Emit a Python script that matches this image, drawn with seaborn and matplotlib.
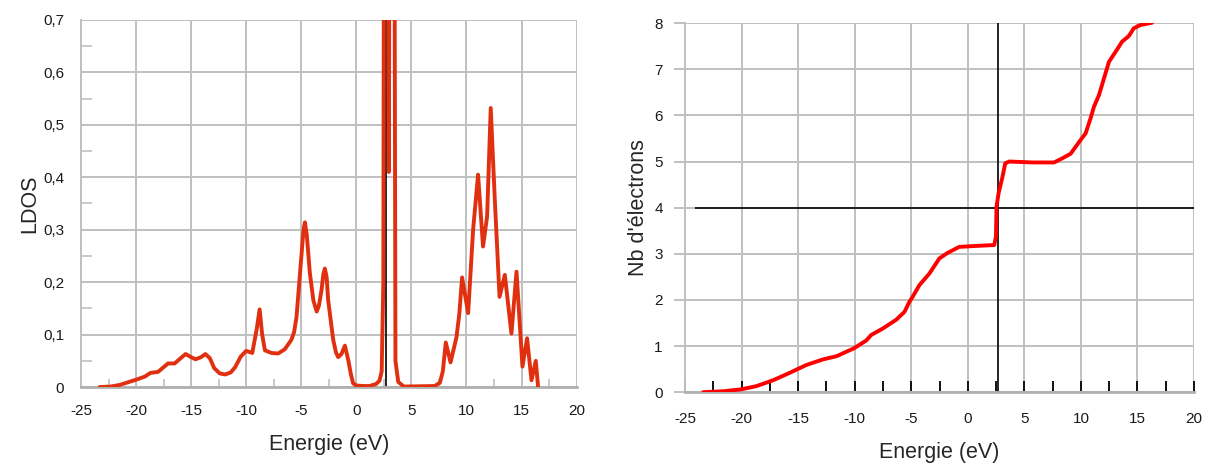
import numpy as np
import pandas as pd
import matplotlib
matplotlib.use('Agg')
import matplotlib.pyplot as plt
from matplotlib.ticker import FuncFormatter, MultipleLocator
import seaborn as sns

# LDOS curve (energy in eV, LDOS)
ldos_energy = [-23.3, -22.3, -21.5, -20.9, -20.0, -19.2, -18.7, -18.0, -17.1, -16.5,
               -15.9, -15.5, -15.0, -14.6, -14.1, -13.7, -13.3, -12.9, -12.4, -11.9,
               -11.4, -11.0, -10.5, -10.0, -9.45, -9.05, -8.78, -8.55, -8.3, -7.7,
               -7.1, -6.5, -5.9, -5.65, -5.43, -4.97, -4.8, -4.67, -4.5, -4.22,
               -3.9, -3.6, -3.4, -3.16, -3.0, -2.86, -2.7, -2.56, -2.1, -1.85,
               -1.65, -1.35, -1.04, -0.74, -0.5, -0.29, 0.0, 0.6, 1.2, 1.8,
               2.1, 2.3, 2.45, 2.55, 2.65, 2.75, 2.85, 2.95, 3.05, 3.15,
               3.25, 3.35, 3.42, 3.55, 3.8, 4.3, 7.1, 7.58, 7.85, 8.12,
               8.55, 9.09, 9.35, 9.6, 10.15, 10.6, 11.05, 11.5, 11.87, 12.2,
               12.57, 13.0, 13.48, 14.08, 14.54, 15.08, 15.5, 15.9, 16.29, 16.5]
ldos_value = [0.0, 0.001, 0.004, 0.008, 0.014, 0.02, 0.027, 0.029, 0.045, 0.045,
              0.056, 0.063, 0.057, 0.053, 0.057, 0.063, 0.055, 0.036, 0.026, 0.024,
              0.028, 0.038, 0.058, 0.069, 0.065, 0.11, 0.148, 0.1, 0.07, 0.065,
              0.064, 0.072, 0.09, 0.105, 0.134, 0.255, 0.3, 0.314, 0.29, 0.217,
              0.165, 0.144, 0.155, 0.185, 0.215, 0.226, 0.21, 0.166, 0.09, 0.066,
              0.057, 0.063, 0.079, 0.052, 0.025, 0.007, 0.003, 0.002, 0.002, 0.006,
              0.012, 0.03, 0.2, 1.5, 0.9, 1.5, 1.2, 0.41, 1.3, 0.9,
              1.4, 0.9, 1.3, 0.05, 0.01, 0.001, 0.002, 0.008, 0.03, 0.085,
              0.047, 0.095, 0.14, 0.209, 0.141, 0.3, 0.405, 0.268, 0.325, 0.532,
              0.357, 0.172, 0.214, 0.102, 0.22, 0.039, 0.093, 0.013, 0.05, 0.0]

# integrated number of electrons (right panel)
nb_energy = [-23.4, -21.6, -20.06, -18.7, -17.2, -15.74, -14.27, -12.8, -11.6, -10.07,
             -8.98, -8.54, -7.51, -6.33, -5.6, -5.16, -4.87, -4.28, -3.4, -2.51,
             -1.78, -0.75, 0.72, 2.34, 2.49, 2.54, 2.72, 3.07, 3.31, 3.66,
             5.72, 7.63, 8.36, 9.1, 9.54, 9.98, 10.42, 10.86, 11.16, 11.6,
             12.04, 12.48, 13.07, 13.65, 14.24, 14.68, 15.27, 16.3]
nb_value = [0.0, 0.02, 0.06, 0.13, 0.26, 0.42, 0.59, 0.71, 0.78, 0.95,
            1.12, 1.24, 1.38, 1.57, 1.74, 1.96, 2.07, 2.32, 2.57, 2.9,
            3.02, 3.15, 3.17, 3.19, 3.37, 4.02, 4.31, 4.67, 4.96, 5.0,
            4.98, 4.98, 5.07, 5.17, 5.32, 5.47, 5.61, 5.94, 6.19, 6.44,
            6.8, 7.16, 7.38, 7.6, 7.72, 7.89, 7.96, 8.01]

e_fermi = 2.7
n_valence = 4

ldos = pd.DataFrame({'E': ldos_energy, 'LDOS': ldos_value})
nb = pd.DataFrame({'E': nb_energy, 'N': nb_value})

sns.set_style("whitegrid")
plt.rcParams['font.family'] = ['Liberation Sans', 'DejaVu Sans']
plt.rcParams['axes.unicode_minus'] = False

grid_c = '#c0c0c0'
fig = plt.figure(figsize=(12.14, 4.63), dpi=100)
ax1 = fig.add_axes([0.0667, 0.164, 0.4083, 0.793])
ax2 = fig.add_axes([0.5643, 0.153, 0.4192, 0.797])


def comma(v, pos):
    if abs(v) < 1e-9:
        return '0'
    return f'{v:.1f}'.replace('.', ',')


for ax in (ax1, ax2):
    ax.grid(True, color=grid_c, linewidth=1.4)
    for s in ax.spines.values():
        s.set_visible(False)
    ax.spines['left'].set_visible(True)
    ax.spines['left'].set_color(grid_c)
    ax.spines['left'].set_linewidth(1.4)
    ax.spines['bottom'].set_visible(True)
    ax.spines['bottom'].set_color('#b0b0b0')
    ax.spines['bottom'].set_linewidth(2)
    ax.set_xlim(-25, 20)
    ax.xaxis.set_major_locator(MultipleLocator(5))
    ax.tick_params(labelsize=11, labelcolor='#1a1a1a')
    ax.set_axisbelow(True)

# left panel: LDOS
ax1.axvline(e_fermi, color='black', linewidth=1.2, zorder=2)
sns.lineplot(data=ldos, x='E', y='LDOS', ax=ax1, color='#e03010',
             linewidth=2.8, estimator=None, zorder=3)
ax1.set_ylim(0, 0.7)
ax1.yaxis.set_major_locator(MultipleLocator(0.1))
ax1.yaxis.set_minor_locator(MultipleLocator(0.05))
ax1.xaxis.set_minor_locator(MultipleLocator(2.5))
ax1.yaxis.set_major_formatter(FuncFormatter(comma))
ax1.tick_params(axis='y', which='major', length=0, pad=12)
ax1.tick_params(axis='y', which='minor', direction='in', length=8,
                width=1.2, color=grid_c, left=True)
ax1.tick_params(axis='x', which='major', length=0, pad=12)
ax1.tick_params(axis='x', which='minor', direction='in', length=6,
                width=1.2, color=grid_c, bottom=True)
ax1.set_xlabel('Energie (eV)', fontsize=15.5, labelpad=12)
ax1.set_ylabel('LDOS', fontsize=15.5, labelpad=2)

# right panel: number of electrons
ax2.axvline(e_fermi - 0.05, color='black', linewidth=1.2, zorder=2)
ax2.hlines(n_valence, -24.1, 20, color='black', linewidth=1.2, zorder=2)
sns.lineplot(data=nb, x='E', y='N', ax=ax2, color='#ff0000',
             linewidth=2.8, estimator=None, zorder=3)
ax2.set_ylim(0, 8)
ax2.yaxis.set_major_locator(MultipleLocator(1))
ax2.xaxis.set_minor_locator(MultipleLocator(2.5))
ax2.tick_params(axis='y', which='major', direction='out', length=8,
                width=1.4, color=grid_c, left=True, pad=8)
ax2.tick_params(axis='x', which='both', direction='in', length=8,
                width=1.4, color='#111111', bottom=True, pad=14)
ax2.set_xlabel('Energie (eV)', fontsize=15.5, labelpad=12)
ax2.set_ylabel("Nb d'électrons", fontsize=15.5, labelpad=4)

fig.savefig('out.png', dpi=100)
